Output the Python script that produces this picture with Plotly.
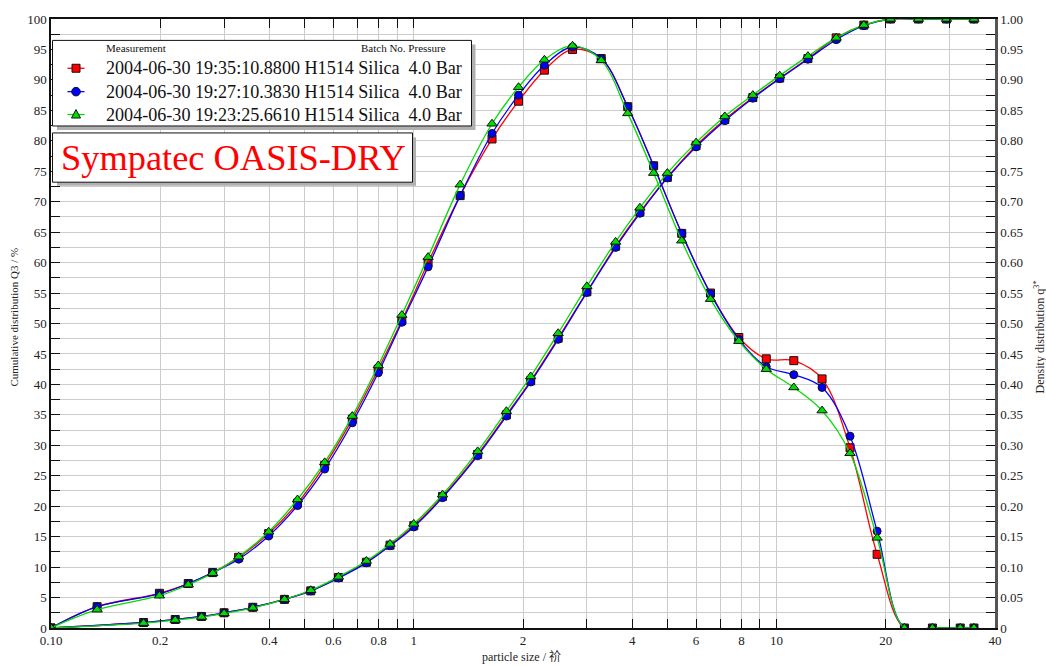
import plotly.graph_objects as go

# ---- data ----
size_bounds = [0.10, 0.18, 0.22, 0.26, 0.30, 0.36, 0.44, 0.52, 0.62, 0.74, 0.86, 1.00,
               1.20, 1.50, 1.80, 2.10, 2.50, 3.00, 3.60, 4.20, 5.00, 6.00, 7.20, 8.60,
               10.2, 12.2, 14.6, 17.4, 20.6, 24.6, 29.4, 35.0]
size_mid = [0.10, 0.134, 0.199, 0.239, 0.279, 0.329, 0.398, 0.478, 0.568, 0.677, 0.798,
            0.927, 1.095, 1.342, 1.643, 1.944, 2.291, 2.739, 3.286, 3.888, 4.583, 5.477,
            6.573, 7.869, 9.366, 11.155, 13.346, 15.94, 18.93, 22.51, 26.89, 32.08, 35.0]

q3_cum_red = [0, 0.9, 1.4, 1.9, 2.5, 3.4, 4.7, 6.1, 8.3, 10.8, 13.6, 16.8, 21.6, 28.5,
              35.0, 40.6, 47.6, 55.2, 62.7, 68.3, 74.0, 79.2, 83.5, 87.1, 90.3, 93.5,
              96.9, 99.0, 100, 100, 100, 100]
q3_cum_blue = [0, 0.9, 1.4, 1.9, 2.5, 3.4, 4.7, 6.1, 8.2, 10.7, 13.5, 16.6, 21.4, 28.3,
               34.8, 40.4, 47.4, 55.1, 62.5, 68.1, 73.9, 79.0, 83.3, 87.0, 90.2, 93.4,
               96.6, 98.9, 100, 100, 100, 100]
q3_cum_green = [0, 0.8, 1.3, 1.8, 2.4, 3.3, 4.7, 6.2, 8.4, 11.0, 13.8, 17.1, 21.9, 29.0,
                35.6, 41.3, 48.4, 56.1, 63.4, 69.0, 74.7, 79.7, 84.0, 87.5, 90.7, 93.9,
                96.9, 99.0, 100, 100, 100, 100]

q3_dens_red = [0, 0.035, 0.057, 0.073, 0.091, 0.116, 0.155, 0.205, 0.267, 0.343, 0.425,
               0.505, 0.600, 0.710, 0.803, 0.865, 0.916, 0.950, 0.935, 0.856, 0.759, 0.648,
               0.550, 0.477, 0.442, 0.439, 0.409, 0.296, 0.121, 0, 0, 0, 0]
q3_dens_blue = [0, 0.035, 0.056, 0.073, 0.091, 0.113, 0.151, 0.201, 0.261, 0.337, 0.419,
                0.502, 0.593, 0.710, 0.812, 0.875, 0.924, 0.954, 0.935, 0.856, 0.759, 0.648,
                0.549, 0.474, 0.429, 0.416, 0.395, 0.315, 0.159, 0, 0, 0, 0]
q3_dens_green = [0, 0.030, 0.053, 0.071, 0.090, 0.117, 0.158, 0.211, 0.272, 0.348, 0.431,
                 0.514, 0.609, 0.728, 0.828, 0.888, 0.933, 0.956, 0.932, 0.845, 0.747, 0.636,
                 0.540, 0.471, 0.425, 0.395, 0.357, 0.287, 0.148, 0, 0, 0, 0]

series_names = ["2004-06-30 19:35:10.8800 H1514 Silica  4.0 Bar",
                "2004-06-30 19:27:10.3830 H1514 Silica  4.0 Bar",
                "2004-06-30 19:23:25.6610 H1514 Silica  4.0 Bar"]
series_colors = ["#ff0000", "#0000ff", "#00dd00"]
series_symbols = ["square", "circle", "triangle-up"]
cum_values = [q3_cum_red, q3_cum_blue, q3_cum_green]
dens_values = [q3_dens_red, q3_dens_blue, q3_dens_green]

x_tickvals = [0.1, 0.2, 0.4, 0.6, 0.8, 1, 2, 4, 6, 8, 10, 20, 40]
x_ticktext = ["0.10", "0.2", "0.4", "0.6", "0.8", "1", "2", "4", "6", "8", "10", "20", "40"]
x_minor = [0.3, 0.5, 0.7, 0.9, 3, 5, 7, 9, 30]
y_left_vals = list(range(0, 101, 5))
y_right_vals = [i / 20 for i in range(21)]
y_right_text = ["0"] + ["%.2f" % v for v in y_right_vals[1:]]

SERIF = "Liberation Serif, Times New Roman, Noto Sans CJK SC, serif"

# ---- geometry helpers (pixel -> paper) ----
W, H = 1046, 666
L, R, T, B = 51, 51, 16, 38
PW, PH = W - L - R, H - T - B
def px(x): return (x - L) / PW
def py(y): return (H - B - y) / PH

fig = go.Figure()
for name, col, sym, cum, dens in zip(series_names, series_colors, series_symbols,
                                      cum_values, dens_values):
    msize = 9 if sym == "triangle-up" else 8
    marker = dict(symbol=sym, size=msize, color=col, line=dict(color="#111111", width=1))
    fig.add_trace(go.Scatter(x=size_bounds, y=cum, mode="lines+markers", name=name,
                             line=dict(color=col, width=1.3, shape="spline"),
                             marker=marker, yaxis="y"))
    fig.add_trace(go.Scatter(x=size_mid, y=dens, mode="lines+markers", name=name,
                             line=dict(color=col, width=1.3, shape="spline"),
                             marker=marker, yaxis="y2"))

grid = "#cccccc"
tickfont = dict(family=SERIF, size=13, color="#222222")
fig.update_layout(
    width=W, height=H,
    margin=dict(l=L, r=R, t=T, b=B),
    paper_bgcolor="white", plot_bgcolor="white",
    font=dict(family=SERIF, color="#222222"),
    showlegend=False,
    xaxis=dict(type="log", range=[-1, 1.60206], tickvals=x_tickvals, ticktext=x_ticktext,
               ticks="inside", ticklen=9, tickcolor="#111111", showgrid=True, gridcolor=grid,
               gridwidth=1, showline=True, linecolor="#111111", linewidth=1.5,
               mirror="ticks", tickfont=tickfont, zeroline=False,
               minor=dict(tickvals=x_minor, ticks="inside", ticklen=9, tickcolor="#111111",
                          showgrid=True, gridcolor=grid, gridwidth=1)),
    yaxis=dict(range=[0, 100], tickvals=y_left_vals, ticks="inside", ticklen=9,
               tickcolor="#111111", showgrid=True, gridcolor=grid, gridwidth=1,
               showline=True, linecolor="#111111", linewidth=1.5, zeroline=False,
               tickfont=tickfont,
               minor=dict(dtick=2.5, ticks="inside", ticklen=9, tickcolor="#111111",
                          showgrid=True, gridcolor=grid, gridwidth=1)),
    yaxis2=dict(overlaying="y", side="right", range=[0, 1], tickvals=y_right_vals,
                ticktext=y_right_text, ticks="inside", ticklen=9, tickcolor="#111111",
                showgrid=False, showline=True, linecolor="#555555", linewidth=2.5,
                zeroline=False, tickfont=tickfont,
                minor=dict(dtick=0.025, ticks="inside", ticklen=9, tickcolor="#111111",
                           showgrid=False)),
)

def rect(x0, y0, x1, y1, fill, line_w=0, line_c="#111111"):
    fig.add_shape(type="rect", xref="paper", yref="paper", x0=px(x0), x1=px(x1),
                  y0=py(y1), y1=py(y0), fillcolor=fill,
                  line=dict(width=line_w, color=line_c), layer="above")

# ---- legend (drawn by hand to match the original box) ----
rect(57, 41.5, 475.5, 127.5, "#b0b0b0")
rect(52.5, 37.5, 471.5, 123.5, "white", 1)
row_y = [65.5, 89, 112]
mx = 76
for name, col, sym, yy in zip(series_names, series_colors, series_symbols, row_y):
    fig.add_shape(type="line", xref="paper", yref="paper", x0=px(67.5), x1=px(84.5),
                  y0=py(yy), y1=py(yy), line=dict(color=col, width=1.3), layer="above")
    if sym == "square":
        rect(mx - 4, yy - 4, mx + 4, yy + 4, col, 1)
    elif sym == "circle":
        fig.add_shape(type="circle", xref="paper", yref="paper", x0=px(mx - 4.3),
                      x1=px(mx + 4.3), y0=py(yy + 4.3), y1=py(yy - 4.3), fillcolor=col,
                      line=dict(width=1, color="#111111"), layer="above")
    else:
        path = "M %f,%f L %f,%f L %f,%f Z" % (px(mx), py(yy - 5), px(mx - 4.5), py(yy + 3.5),
                                             px(mx + 4.5), py(yy + 3.5))
        fig.add_shape(type="path", xref="paper", yref="paper", path=path, fillcolor=col,
                      line=dict(width=1, color="#111111"), layer="above")
    fig.add_annotation(x=px(103.5), y=py(yy), xref="paper", yref="paper", xanchor="left",
                       yanchor="middle", text=name, showarrow=False,
                       font=dict(family=SERIF, size=18.1, color="#111111"))
fig.add_annotation(x=px(104), y=py(45.5), xref="paper", yref="paper", xanchor="left",
                   yanchor="middle", text="Measurement", showarrow=False,
                   font=dict(family=SERIF, size=11, color="#111111"))
fig.add_annotation(x=px(359), y=py(45.5), xref="paper", yref="paper", xanchor="left",
                   yanchor="middle", text="Batch No. Pressure", showarrow=False,
                   font=dict(family=SERIF, size=11, color="#111111"))

# ---- instrument label box ----
rect(57, 135, 416, 183.5, "#b0b0b0")
rect(52.5, 130.5, 412.5, 180, "white", 1)
fig.add_annotation(x=px(233), y=py(155.5), xref="paper", yref="paper", xanchor="center",
                   yanchor="middle", text="Sympatec OASIS-DRY", showarrow=False,
                   font=dict(family=SERIF, size=36.4, color="#ff0000"))

# ---- axis titles ----
fig.add_annotation(x=px(521), y=py(656.5), xref="paper", yref="paper", xanchor="center",
                   yanchor="middle", text="particle size / 祄", showarrow=False,
                   font=dict(family=SERIF, size=12, color="#222222"))
fig.add_annotation(x=px(14), y=py(316), xref="paper", yref="paper", xanchor="center",
                   yanchor="middle", textangle=-90,
                   text="Cumulative distribution Q3 / %", showarrow=False,
                   font=dict(family=SERIF, size=11, color="#222222"))
fig.add_annotation(x=px(1039), y=py(336), xref="paper", yref="paper", xanchor="center",
                   yanchor="middle", textangle=-90,
                   text="Density distribution q<sup>3*</sup>", showarrow=False,
                   font=dict(family=SERIF, size=12, color="#222222"))

fig.write_html("out.html")
